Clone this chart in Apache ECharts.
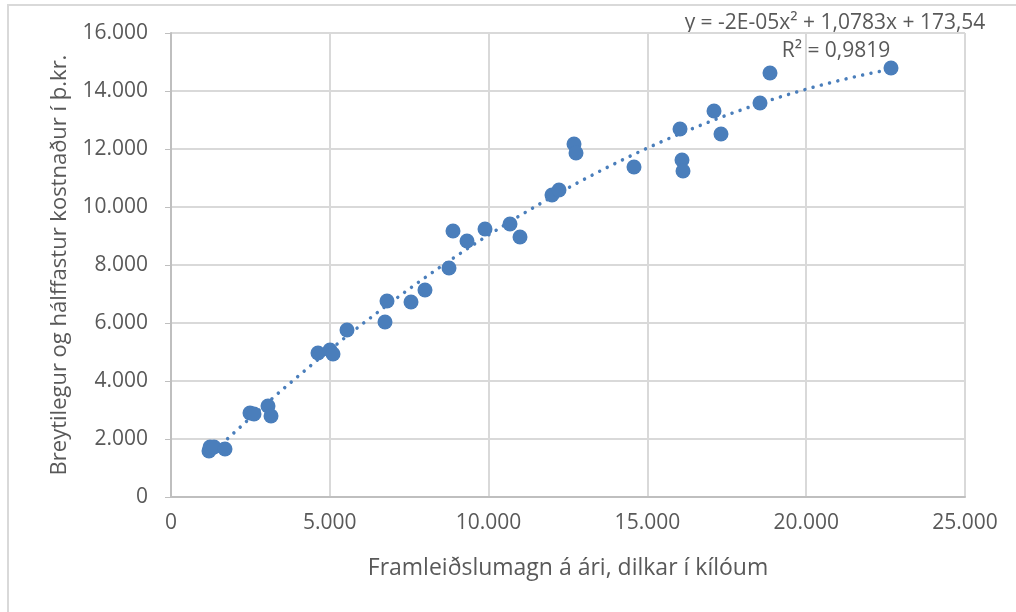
<!DOCTYPE html>
<html>
<head>
<meta charset="utf-8">
<script src="https://cdn.jsdelivr.net/npm/echarts@6/dist/echarts.min.js"></script>
<style>
html,body{margin:0;padding:0;background:#fff;}
#frame{position:absolute;left:7px;top:4px;width:1100px;height:700px;border-left:2px solid #d9d9d9;border-top:2px solid #d9d9d9;box-sizing:border-box;}
#chart{position:absolute;left:0;top:0;width:1016px;height:612px;}
</style>
</head>
<body>
<div id="frame"></div>
<div id="chart"></div>
<script>
// Framleiðslumagn (kg) per bú
const xValues = [1196, 1230, 1354, 1700, 2487, 2613, 3054, 3149, 4628, 5006, 5101, 5541, 6738, 6801, 7557, 7997, 8753, 8879, 9320, 9887, 10674, 10989, 11996, 12217, 12689, 12752, 14578, 16027, 16089, 16121, 17097, 17317, 18545, 18860, 22670];
// Breytilegur og hálffastur kostnaður (þ.kr.)
const yValues = [1586, 1724, 1724, 1655, 2897, 2862, 3138, 2793, 4966, 5069, 4931, 5759, 6034, 6759, 6724, 7138, 7897, 9172, 8828, 9241, 9414, 8966, 10414, 10586, 12172, 11862, 11379, 12690, 11621, 11241, 13310, 12517, 13586, 14621, 14793];
const xTicks = [0, 5000, 10000, 15000, 20000, 25000];
const yTicks = [0, 2000, 4000, 6000, 8000, 10000, 12000, 14000, 16000];
const xTitle = 'Framleiðslumagn á ári, dilkar í kílóum';
const yTitle = 'Breytilegur og hálffastur kostnaður í þ.kr.';
const eqText = 'y = -2E-05x² + 1,0783x + 173,54';
const r2Text = 'R² = 0,9819';

// Least-squares quadratic fit (Excel polynomial trendline, order 2) from the data
function quadFit(xs, ys) {
  let S = [0,0,0,0,0], T = [0,0,0];
  for (let i = 0; i < xs.length; i++) {
    const x = xs[i] / 1000, y = ys[i];
    let p = 1;
    for (let k = 0; k < 5; k++) { S[k] += p; p *= x; }
    T[0] += y; T[1] += y * x; T[2] += y * x * x;
  }
  const A = [[S[0],S[1],S[2],T[0]],[S[1],S[2],S[3],T[1]],[S[2],S[3],S[4],T[2]]];
  for (let c = 0; c < 3; c++) {
    for (let r = c + 1; r < 3; r++) {
      const f = A[r][c] / A[c][c];
      for (let k = c; k < 4; k++) A[r][k] -= f * A[c][k];
    }
  }
  const b = [0,0,0];
  for (let r = 2; r >= 0; r--) {
    let s = A[r][3];
    for (let k = r + 1; k < 3; k++) s -= A[r][k] * b[k];
    b[r] = s / A[r][r];
  }
  return x => { const t = x / 1000; return b[0] + b[1] * t + b[2] * t * t; };
}
const trend = quadFit(xValues, yValues);
const xMin = Math.min(...xValues), xMax = Math.max(...xValues);
const trendData = [];
for (let i = 0; i <= 100; i++) {
  const x = xMin + (xMax - xMin) * i / 100;
  trendData.push([x, trend(x)]);
}
const pts = xValues.map((x, i) => [x, yValues[i]]);

const fmt = v => v === 0 ? '0' : String(v).replace(/\B(?=(\d{3})+(?!\d))/g, '.');
const FONT = 'Open Sans';
const chart = echarts.init(document.getElementById('chart'), null, {renderer: 'canvas'});
chart.setOption({
  animation: false,
  backgroundColor: 'transparent',
  grid: {left: 171, right: 51, top: 33, bottom: 115, containLabel: false},
  xAxis: {
    type: 'value', min: 0, max: 25000, interval: 5000,
    axisLine: {show: true, lineStyle: {color: '#bfbfbf', width: 2}},
    axisTick: {show: false},
    splitLine: {show: true, lineStyle: {color: '#d9d9d9', width: 2}},
    axisLabel: {color: '#595959', fontFamily: FONT, fontSize: 21, margin: 16, formatter: fmt},
    name: xTitle, nameLocation: 'middle', nameGap: 60,
    nameTextStyle: {color: '#595959', fontFamily: FONT, fontSize: 23}
  },
  yAxis: {
    type: 'value', min: 0, max: 16000, interval: 2000,
    axisLine: {show: true, lineStyle: {color: '#bfbfbf', width: 2}},
    axisTick: {show: true, length: 6, inside: false, lineStyle: {color: '#bfbfbf'}},
    splitLine: {show: true, lineStyle: {color: '#d9d9d9', width: 2}},
    axisLabel: {color: '#595959', fontFamily: FONT, fontSize: 21, margin: 23, formatter: fmt},
    name: yTitle, nameLocation: 'middle', nameGap: 100, nameRotate: 90,
    nameTextStyle: {color: '#595959', fontFamily: FONT, fontSize: 22}
  },
  graphic: [
    {type: 'text', x: 835, y: 23, style: {text: eqText, fill: '#595959', font: '21px "Open Sans"', textAlign: 'center', textVerticalAlign: 'middle'}},
    {type: 'text', x: 836, y: 51, style: {text: r2Text, fill: '#595959', font: '21px "Open Sans"', textAlign: 'center', textVerticalAlign: 'middle'}}
  ],
  series: [
    {
      type: 'line', data: trendData, showSymbol: false, smooth: false, z: 2,
      lineStyle: {color: '#4a7ebb', width: 3.5, type: [0.01, 8.5], cap: 'round'}
    },
    {
      type: 'scatter', data: pts, symbolSize: 15, z: 3,
      itemStyle: {color: '#4a7ebb', opacity: 1}
    }
  ]
});
</script>
</body>
</html>
